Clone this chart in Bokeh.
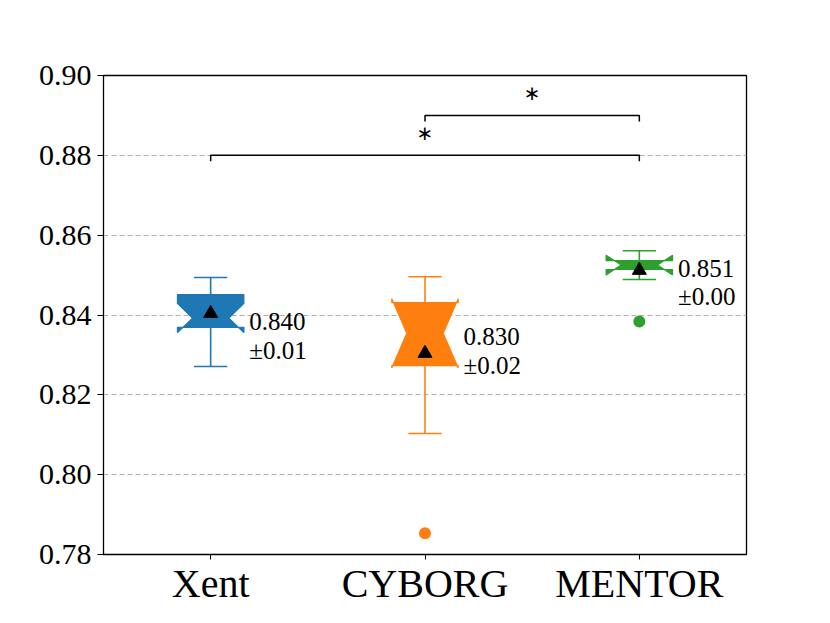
from bokeh.plotting import figure
from bokeh.models import Range1d, FixedTicker, ColumnDataSource
from bokeh.core.properties import value
from bokeh.embed import file_html
from bokeh.resources import INLINE

methods = ["Xent", "CYBORG", "MENTOR"]
colors = ["#1f77b4", "#ff7f0e", "#2ca02c"]
q1 = [0.8369, 0.8273, 0.8514]
q3 = [0.8451, 0.8431, 0.8536]
med = [0.8392, 0.8354, 0.8525]
ci_lo = [0.8356, 0.8267, 0.8500]
ci_hi = [0.8429, 0.8441, 0.8550]
whis_lo = [0.8271, 0.8103, 0.8489]
whis_hi = [0.8494, 0.8496, 0.8561]
means = [0.8404, 0.8304, 0.8512]
stds = [0.01, 0.02, 0.00]
outlier_method = ["CYBORG", "MENTOR"]
outlier_value = [0.7853, 0.8384]
y_ticks = [0.78, 0.80, 0.82, 0.84, 0.86, 0.88, 0.90]
brackets_from = ["Xent", "CYBORG"]
brackets_to = ["MENTOR", "MENTOR"]
brackets_height = [0.88, 0.89]
brackets_text = ["∗", "∗"]

pos = {m: i + 1 for i, m in enumerate(methods)}
xs = [pos[m] for m in methods]

p = figure(frame_width=643, frame_height=479, output_backend="svg",
           toolbar_location=None, x_range=Range1d(0.5, 3.5),
           y_range=Range1d(0.78, 0.90),
           min_border_left=103, min_border_top=75, min_border_right=60,
           min_border_bottom=50)
p.background_fill_color = "white"
p.outline_line_color = "black"
p.outline_line_width = 1.3

FONT = "Liberation Serif"

# axes
p.xaxis.ticker = FixedTicker(ticks=xs)
p.xaxis.major_label_overrides = {pos[m]: m for m in methods}
p.xaxis.major_label_text_font = FONT
p.xaxis.major_label_text_font_size = "40px"
p.xaxis.major_label_text_color = "black"
p.xaxis.major_tick_out = 5
p.xaxis.major_tick_in = 0
p.xaxis.minor_tick_line_color = None
p.xaxis.major_label_standoff = 1
p.xaxis.axis_line_color = "black"
p.xaxis.major_tick_line_color = "black"

p.yaxis.ticker = FixedTicker(ticks=y_ticks)
p.yaxis.major_label_overrides = {t: f"{t:.2f}" for t in y_ticks}
p.yaxis.major_label_text_font = FONT
p.yaxis.major_label_text_font_size = "30px"
p.yaxis.major_label_text_color = "black"
p.yaxis.major_tick_out = 6
p.yaxis.major_tick_in = 0
p.yaxis.minor_tick_line_color = None
p.yaxis.major_label_standoff = 6
p.yaxis.axis_line_color = "black"
p.yaxis.major_tick_line_color = "black"

p.xgrid.grid_line_color = None
p.ygrid.grid_line_color = "#b0b0b0"
p.ygrid.grid_line_dash = "5 3"
p.ygrid.grid_line_width = 1

box_half = 0.155
notch_half = 0.085
cap_half = 0.0775

for i, m in enumerate(methods):
    x = pos[m]
    c = colors[i]
    L, R = x - box_half, x + box_half
    NL, NR = x - notch_half, x + notch_half
    bx = [L, R, R, NR, R, R, L, L, NL, L, L]
    by = [q1[i], q1[i], ci_lo[i], med[i], ci_hi[i], q3[i], q3[i], ci_hi[i], med[i], ci_lo[i], q1[i]]
    # whiskers
    p.segment(x0=[x, x], y0=[q3[i], q1[i]], x1=[x, x], y1=[whis_hi[i], whis_lo[i]],
              line_color=c, line_width=1.6)
    p.segment(x0=[x - cap_half, x - cap_half], y0=[whis_hi[i], whis_lo[i]],
              x1=[x + cap_half, x + cap_half], y1=[whis_hi[i], whis_lo[i]],
              line_color=c, line_width=1.6)
    p.patch(bx, by, fill_color=c, line_color=c, line_width=1.2)

# outliers
p.scatter([pos[m] for m in outlier_method], outlier_value, marker="circle", size=12,
          fill_color=[colors[methods.index(m)] for m in outlier_method],
          line_color=None)

# means
p.scatter(xs, means, marker="triangle", size=14, fill_color="black", line_color="black")

# annotations
src = ColumnDataSource(dict(
    x=[v + 0.18 for v in xs], y=med,
    t=[f"{m:.3f}\n±{s:.2f}" for m, s in zip(means, stds)]))
p.text("x", "y", text="t", source=src, text_font=value(FONT),
       text_font_size="25px", text_baseline="top", text_align="left",
       text_line_height=1.05, y_offset=-10, text_color="black")

# significance brackets
tick_len = 0.0015
for a, b, h, s in zip(brackets_from, brackets_to, brackets_height, brackets_text):
    xa, xb = pos[a], pos[b]
    p.line([xa, xa, xb, xb], [h - tick_len, h, h, h - tick_len], line_color="black",
           line_width=1.5)
    p.text([(xa + xb) / 2], [h + 0.0057], text=[s], text_font=value("DejaVu Sans"),
           text_font_size="20px", text_baseline="middle", text_align="center",
           text_color="black")

open("out.html", "w").write(file_html(p, INLINE))
